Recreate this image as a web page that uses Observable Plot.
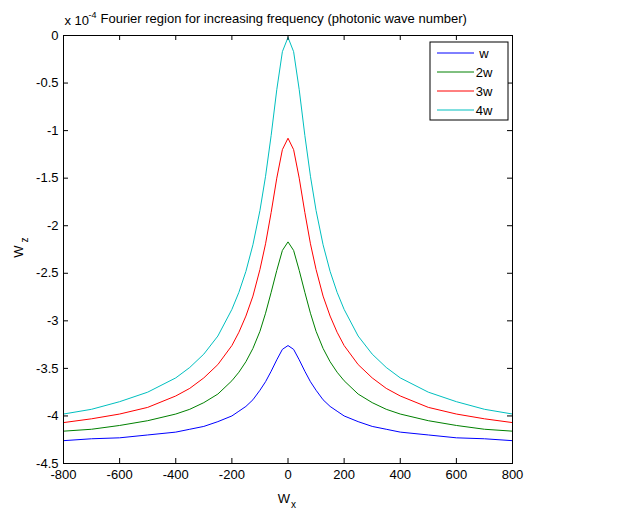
<!DOCTYPE html>
<html>
<head>
<meta charset="utf-8">
<script src="https://cdn.jsdelivr.net/npm/d3@7"></script>
<script src="https://cdn.jsdelivr.net/npm/@observablehq/plot@0.6"></script>
<style>
  html, body { margin: 0; padding: 0; background: #fff; }
</style>
</head>
<body>
<div id="chart"></div>
<script>
// ---- data (values in units of 1e-4) ----
const xs = [-800, -700, -600, -500, -400, -350, -300, -250, -200, -175, -150, -125, -100, -80, -60, -40, -20, 0,
            20, 40, 60, 80, 100, 125, 150, 175, 200, 250, 300, 350, 400, 500, 600, 700, 800];
const seriesNames = ["w", "2w", "3w", "4w"];
const seriesColors = ["#0000ff", "#008000", "#ff0000", "#00bfbf"];
const wVals  = [-4.26, -4.24, -4.23, -4.20, -4.17, -4.14, -4.11, -4.06, -4.00, -3.95, -3.90, -3.83, -3.73, -3.64, -3.53, -3.41, -3.30, -3.26,
                -3.30, -3.41, -3.53, -3.64, -3.73, -3.83, -3.90, -3.95, -4.00, -4.06, -4.11, -4.14, -4.17, -4.20, -4.23, -4.24, -4.26];
const w2Vals = [-4.16, -4.14, -4.10, -4.05, -3.98, -3.93, -3.86, -3.77, -3.63, -3.54, -3.43, -3.29, -3.11, -2.92, -2.70, -2.47, -2.26, -2.17,
                -2.26, -2.47, -2.70, -2.92, -3.11, -3.29, -3.43, -3.54, -3.63, -3.77, -3.86, -3.93, -3.98, -4.05, -4.10, -4.14, -4.16];
const w3Vals = [-4.07, -4.03, -3.98, -3.91, -3.79, -3.71, -3.60, -3.46, -3.26, -3.12, -2.95, -2.74, -2.46, -2.19, -1.86, -1.50, -1.20, -1.08,
                -1.20, -1.50, -1.86, -2.19, -2.46, -2.74, -2.95, -3.12, -3.26, -3.46, -3.60, -3.71, -3.79, -3.91, -3.98, -4.03, -4.07];
const w4Vals = [-3.98, -3.93, -3.85, -3.75, -3.60, -3.49, -3.35, -3.16, -2.88, -2.70, -2.48, -2.20, -1.84, -1.48, -1.05, -0.57, -0.17, -0.02,
                -0.17, -0.57, -1.05, -1.48, -1.84, -2.20, -2.48, -2.70, -2.88, -3.16, -3.35, -3.49, -3.60, -3.75, -3.85, -3.93, -3.98];
const xTicks = [-800, -600, -400, -200, 0, 200, 400, 600, 800];
const yTicks = [0, -0.5, -1, -1.5, -2, -2.5, -3, -3.5, -4, -4.5];
const titleText = "Fourier region for increasing frequency (photonic wave number)";

const allVals = [wVals, w2Vals, w3Vals, w4Vals];
const data = [];
allVals.forEach((vals, si) => vals.forEach((v, i) => data.push({x: xs[i], y: v, s: seriesNames[si]})));

const W = 630, H = 512, mL = 63, mR = 118, mT = 35, mB = 49;
const fw = W - mL - mR, fh = H - mT - mB;
const tk = 5;
const font = "'Liberation Sans', Arial, Helvetica, sans-serif";

const chart = Plot.plot({
  width: W, height: H,
  marginLeft: mL, marginRight: mR, marginTop: mT, marginBottom: mB,
  style: {fontFamily: font, fontSize: "13px", background: "#fff", color: "#000", overflow: "visible"},
  x: {domain: [-800, 800]},
  y: {domain: [-4.5, 0]},
  color: {domain: seriesNames, range: seriesColors},
  marks: [
    Plot.line(data, {x: "x", y: "y", z: "s", stroke: "s", strokeWidth: 1}),
    Plot.frame({stroke: "#000", strokeWidth: 1}),
    Plot.ruleX(xTicks, {x: d => d, insetTop: fh - tk, stroke: "#000"}),
    Plot.ruleX(xTicks, {x: d => d, insetBottom: fh - tk, stroke: "#000"}),
    Plot.ruleY(yTicks, {y: d => d, insetRight: fw - tk, stroke: "#000"}),
    Plot.ruleY(yTicks, {y: d => d, insetLeft: fw - tk, stroke: "#000"}),
    Plot.axisX(xTicks, {tickSize: 0, tickPadding: 6, tickFormat: d => String(d), label: null, fontSize: 13}),
    Plot.axisY(yTicks, {tickSize: 0, tickPadding: 5, tickFormat: d => String(d), label: null, fontSize: 13}),
    // title & exponent
    Plot.text([titleText], {frameAnchor: "top-left", text: d => d, textAnchor: "start", lineAnchor: "bottom", dx: 37, dy: -13, fontSize: 13}),
    Plot.text(["x 10"], {frameAnchor: "top-left", text: d => d, textAnchor: "start", lineAnchor: "bottom", dx: 1, dy: -11, fontSize: 13}),
    Plot.text(["-4"], {frameAnchor: "top-left", text: d => d, textAnchor: "start", lineAnchor: "bottom", dx: 25, dy: -18, fontSize: 9}),
    // x label
    Plot.text(["W"], {frameAnchor: "bottom", text: d => d, textAnchor: "middle", lineAnchor: "bottom", dx: -4, dy: 39, fontSize: 13}),
    Plot.text(["x"], {frameAnchor: "bottom", text: d => d, textAnchor: "start", lineAnchor: "bottom", dx: 3, dy: 44, fontSize: 10}),
    // y label
    Plot.text(["W"], {frameAnchor: "left", text: d => d, textAnchor: "middle", lineAnchor: "bottom", rotate: -90, dx: -41, dy: 2, fontSize: 13}),
    Plot.text(["z"], {frameAnchor: "left", text: d => d, textAnchor: "start", lineAnchor: "bottom", rotate: -90, dx: -36, dy: -7, fontSize: 10})
  ]
});

// legend box (decoration)
const svg = d3.select(chart);
const lg = svg.append("g").attr("font-family", font).attr("font-size", 13);
const bx = 430, by = 42, bw = 78, bh = 78;
lg.append("rect").attr("x", bx).attr("y", by).attr("width", bw).attr("height", bh)
  .attr("fill", "#fff").attr("stroke", "#000").attr("stroke-width", 1);
seriesNames.forEach((name, i) => {
  const yy = by + 11 + i * 19;
  lg.append("line").attr("x1", bx + 7).attr("x2", bx + 44).attr("y1", yy).attr("y2", yy)
    .attr("stroke", seriesColors[i]).attr("stroke-width", 1);
  lg.append("text").attr("x", bx + 54).attr("y", yy + 4.5).text(name);
});

document.getElementById("chart").appendChild(chart);
</script>
</body>
</html>
